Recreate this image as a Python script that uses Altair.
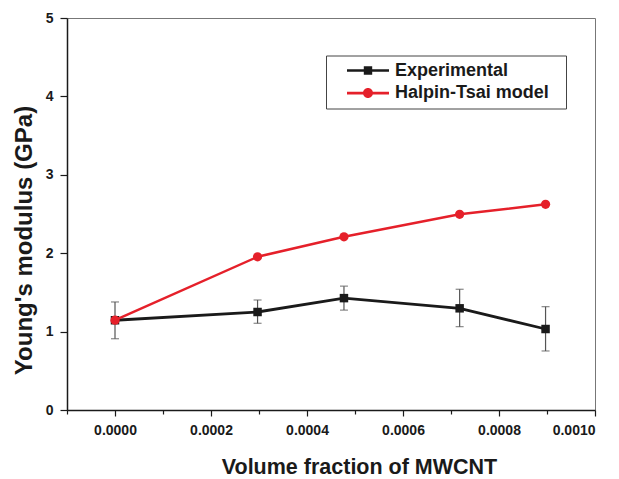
import altair as alt
import pandas as pd

# ---- data ----
volume_fraction = [0.0, 0.000297, 0.000477, 0.000718, 0.000897]
experimental = [1.145, 1.25, 1.427, 1.297, 1.033]
exp_err_low = [0.909, 1.106, 1.274, 1.063, 0.753]
exp_err_high = [1.378, 1.403, 1.58, 1.54, 1.318]
halpin_tsai = [1.145, 1.954, 2.209, 2.496, 2.624]
series_names = ["Experimental", "Halpin-Tsai model"]

x_ticks = [round(i * 0.0001, 4) for i in range(-1, 11)]
y_ticks = [i * 0.5 for i in range(0, 11)]

BLACK = "#1a1a1a"
RED = "#e5202a"
GRAY = "#555555"
FONT = "Liberation Sans"

df = pd.DataFrame({
    "vf": volume_fraction,
    "exp": experimental,
    "lo": exp_err_low,
    "hi": exp_err_high,
    "ht": halpin_tsai,
})
legend_df = pd.DataFrame({"series": series_names})

x_scale = alt.Scale(domain=[-0.0001, 0.001], nice=False, zero=False)
y_scale = alt.Scale(domain=[0, 5], nice=False)

x_axis = alt.Axis(
    values=x_ticks,
    labelExpr="abs(round(datum.value*10000)) % 2 == 1 ? '' : format(datum.value, '.4f')",
    tickSize={"condition": {"test": "abs(round(datum.value*10000)) % 2 == 1", "value": 4}, "value": 6},
    title="Volume fraction of MWCNT",
    titleFontSize=21.5, titleFont=FONT, titleFontWeight="bold", titleColor=BLACK,
    titleX=292, titleY=57, titleBaseline="middle",
    labelFont=FONT, labelFontSize=14, labelFontWeight="bold", labelColor=BLACK,
    labelPadding=7, grid=False,
    domainColor=BLACK, domainWidth=1.5, tickColor=BLACK, tickWidth=1.2,
)
y_axis = alt.Axis(
    values=y_ticks,
    labelExpr="datum.value % 1 != 0 ? '' : format(datum.value, 'd')",
    tickSize={"condition": {"test": "datum.value % 1 != 0", "value": 4}, "value": 7},
    title="Young's modulus (GPa)",
    titleFontSize=24, titleFont=FONT, titleFontWeight="bold", titleColor=BLACK,
    titleX=-43, titleY=222, titleBaseline="middle", titleAngle=270,
    labelFont=FONT, labelFontSize=14, labelFontWeight="bold", labelColor=BLACK,
    labelPadding=7, grid=False,
    domainColor=BLACK, domainWidth=1.5, tickColor=BLACK, tickWidth=1.2,
)

X = alt.X("vf:Q", scale=x_scale, axis=x_axis)

err_rule = alt.Chart(df).mark_rule(color=GRAY, strokeWidth=1.2).encode(
    x=X, y=alt.Y("lo:Q", scale=y_scale, axis=y_axis), y2="hi:Q")
err_lo = alt.Chart(df).mark_tick(color=GRAY, orient="horizontal", size=8, thickness=1.2).encode(
    x=X, y=alt.Y("lo:Q", scale=y_scale))
err_hi = alt.Chart(df).mark_tick(color=GRAY, orient="horizontal", size=8, thickness=1.2).encode(
    x=X, y=alt.Y("hi:Q", scale=y_scale))

exp_line = alt.Chart(df).mark_line(color=BLACK, strokeWidth=2.8).encode(
    x=X, y=alt.Y("exp:Q", scale=y_scale))
exp_pts = alt.Chart(df).mark_point(shape="square", filled=True, size=72, color=BLACK, opacity=1).encode(
    x=X, y=alt.Y("exp:Q", scale=y_scale))
ht_line = alt.Chart(df).mark_line(color=RED, strokeWidth=2.5).encode(
    x=X, y=alt.Y("ht:Q", scale=y_scale))
ht_pts = alt.Chart(df).mark_point(shape="circle", filled=True, size=85, color=RED, opacity=1).encode(
    x=X, y=alt.Y("ht:Q", scale=y_scale))

# legend glyphs: line segment with marker (unit = 9 px)
sq_path = ("M-1,-0.15H3.667V0.15H-1Z "
           "M0.866,-0.467H1.8V0.467H0.866Z")
ci_path = ("M-1,-0.15H3.667V0.15H-1Z "
           "M1.889,0 A0.556,0.556 0 1,1 0.777,0 A0.556,0.556 0 1,1 1.889,0Z")

legend = alt.Legend(
    title="\u00a0", titleOrient="right", titlePadding=11, titleFontSize=18,
    titleFont=FONT,
    orient="none", legendX=259, legendY=37.5,
    strokeColor="#444444", fillColor="white", padding=6,
    symbolSize=324, symbolOpacity=1, symbolStrokeWidth=0, symbolOffset=15,
    labelFont=FONT, labelFontSize=18, labelFontWeight="bold", labelColor=BLACK,
    labelOffset=30, rowPadding=4.6, labelLimit=300,
)
legend_layer = alt.Chart(legend_df).mark_point(filled=True, opacity=0).encode(
    color=alt.Color("series:N", scale=alt.Scale(domain=series_names, range=[BLACK, RED]), legend=legend),
    shape=alt.Shape("series:N", scale=alt.Scale(domain=series_names, range=[sq_path, ci_path]), legend=legend),
)

chart = alt.layer(
    err_rule, err_lo, err_hi, exp_line, exp_pts, ht_line, ht_pts, legend_layer
).properties(
    width=528, height=392,
    autosize=alt.AutoSizeParams(type="none"),
    padding={"left": 67, "top": 18, "right": 24, "bottom": 69},
    background="white",
).configure_view(
    stroke="#777777", strokeWidth=1,
)

chart.save("out.html", embed_options={"renderer": "svg", "actions": False})
